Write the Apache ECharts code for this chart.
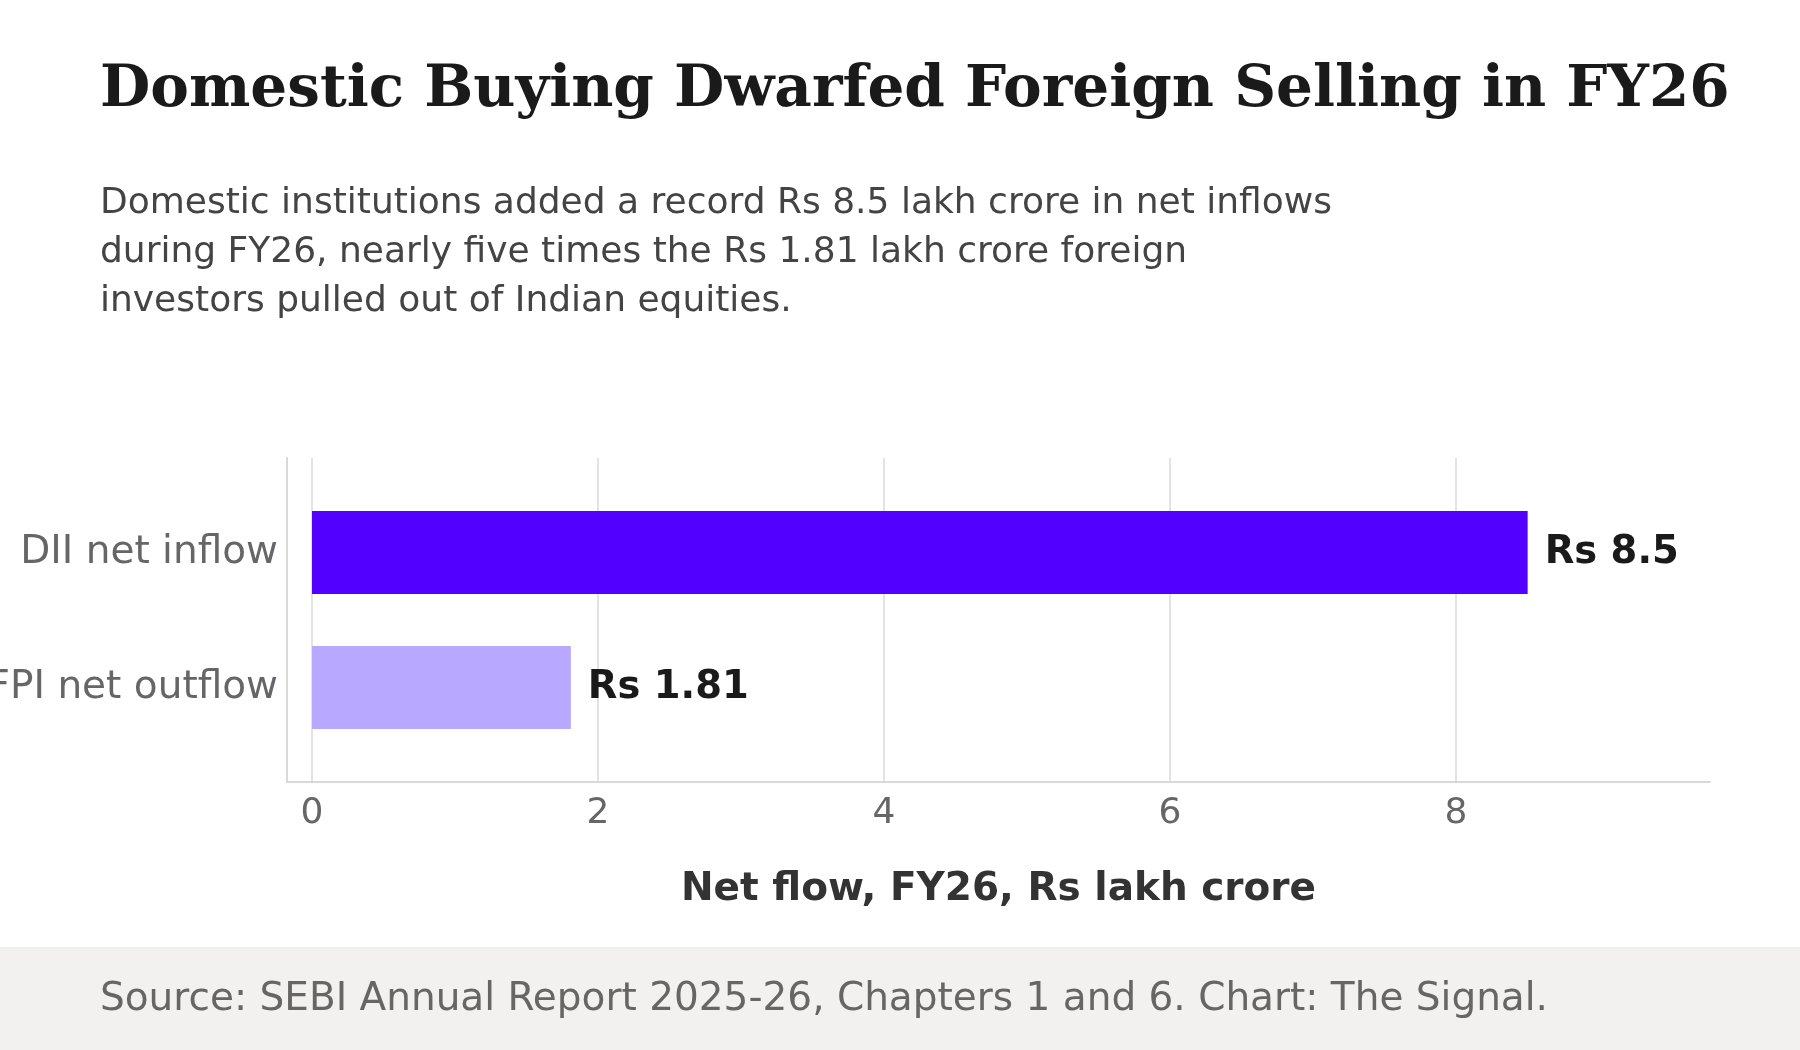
<!DOCTYPE html>
<html>
<head>
<meta charset="utf-8">
<script src="https://cdn.jsdelivr.net/npm/echarts@6/dist/echarts.min.js"></script>
<style>
  html, body { margin: 0; padding: 0; background: #fff; }
  #chart { width: 1800px; height: 1050px; }
</style>
</head>
<body>
<div id="chart"></div>
<script>
// data
const categories = ['DII net inflow', 'FPI net outflow'];
const netFlow = [8.5, 1.81];
const axisName = 'Net flow, FY26, Rs lakh crore';

const titleText = 'Domestic Buying Dwarfed Foreign Selling in FY26';
const subtitleLines = [
  'Domestic institutions added a record Rs 8.5 lakh crore in net inflows',
  'during FY26, nearly five times the Rs 1.81 lakh crore foreign',
  'investors pulled out of Indian equities.'
];
const sourceText = 'Source: SEBI Annual Report 2025-26, Chapters 1 and 6. Chart: The Signal.';

const barColors = ['#5200ff', '#b8a8ff'];
const sans = 'DejaVu Sans';

const chart = echarts.init(document.getElementById('chart'), null, { renderer: 'canvas' });

chart.setOption({
  backgroundColor: '#fff',
  animation: false,
  graphic: [{
    type: 'rect',
    z: -10,
    shape: { x: 0, y: 947, width: 1800, height: 103 },
    style: { fill: '#f2f1f0' }
  }],
  title: [
    {
      text: titleText,
      left: 100, top: 62, padding: 0,
      textStyle: { fontFamily: 'DejaVu Serif', fontWeight: 'bold', fontSize: 58, color: '#1a1a1a' }
    },
    {
      text: subtitleLines.join('\n'),
      left: 100, top: 179, padding: 0,
      textStyle: { fontFamily: sans, fontWeight: 'normal', fontSize: 36, lineHeight: 49, color: '#444' }
    },
    {
      text: sourceText,
      left: 100, top: 980, padding: 0,
      textStyle: { fontFamily: sans, fontWeight: 'normal', fontSize: 39, lineHeight: 40, color: '#666' }
    }
  ],
  grid: [
    // frame (axis lines)
    { left: 287, top: 458, width: 1423, height: 324, outerBoundsMode: 'none' },
    // ticks + gridlines, 0..8
    { left: 312, top: 458, width: 1144, height: 324, outerBoundsMode: 'none' },
    // bars
    { left: 312, top: 485, width: 1398, height: 270, outerBoundsMode: 'none' }
  ],
  xAxis: [
    {
      gridIndex: 0, type: 'value', min: -0.175, max: 9.775,
      axisLine: { show: true, onZero: false, lineStyle: { color: '#d9d9d6', width: 2 } },
      axisTick: { show: false }, axisLabel: { show: false }, splitLine: { show: false },
      name: axisName, nameLocation: 'middle', nameGap: 88,
      nameTextStyle: { fontFamily: sans, fontWeight: 'bold', fontSize: 39, color: '#333' }
    },
    {
      gridIndex: 1, type: 'value', min: 0, max: 8, interval: 2,
      axisLine: { show: false }, axisTick: { show: false },
      axisLabel: { fontFamily: sans, fontSize: 36, color: '#666', margin: 14 },
      splitLine: { show: true, lineStyle: { color: '#e3e3e3', width: 2 } }
    },
    {
      gridIndex: 2, type: 'value', min: 0, max: 9.775,
      axisLine: { show: false }, axisTick: { show: false },
      axisLabel: { show: false }, splitLine: { show: false }
    }
  ],
  yAxis: [
    {
      gridIndex: 0, type: 'value', min: 0, max: 1,
      axisLine: { show: true, onZero: false, lineStyle: { color: '#d9d9d6', width: 2 } },
      axisTick: { show: false }, axisLabel: { show: false }, splitLine: { show: false }
    },
    {
      gridIndex: 1, type: 'value', min: 0, max: 1, show: false, splitLine: { show: false }
    },
    {
      gridIndex: 2, type: 'category', data: categories, inverse: true,
      axisLine: { show: false }, axisTick: { show: false },
      axisLabel: { fontFamily: sans, fontSize: 39, color: '#666', margin: 34 }
    }
  ],
  series: [{
    type: 'bar',
    xAxisIndex: 2, yAxisIndex: 2,
    barWidth: 83,
    data: netFlow.map((v, i) => ({ value: v, itemStyle: { color: barColors[i] } })),
    label: {
      show: true, position: 'right', distance: 17,
      formatter: p => 'Rs ' + p.value,
      fontFamily: sans, fontWeight: 'bold', fontSize: 38.5, color: '#1a1a1a'
    }
  }]
});
</script>
</body>
</html>
